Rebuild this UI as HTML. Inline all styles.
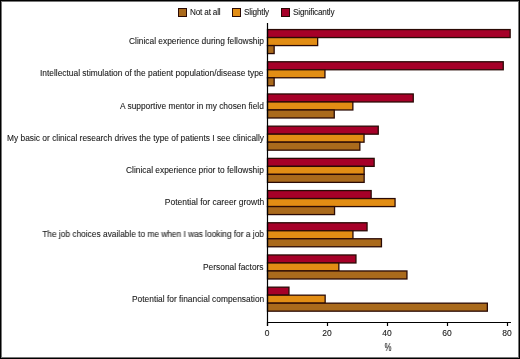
<!DOCTYPE html>
<html><head><meta charset="utf-8"><style>
html,body{margin:0;padding:0;background:#fff;}
#c{position:relative;-webkit-font-smoothing:antialiased;width:520px;height:359px;overflow:hidden;background:#fff;font-family:"Liberation Sans",sans-serif;color:#222;}
#b{position:absolute;left:0;top:0;width:518px;height:357px;border:1px solid #000;box-shadow:inset 0 0 0 1px #777;}
svg{position:absolute;left:0;top:0;}
.lbl{position:absolute;text-shadow:0.3px 0 0 rgba(0,0,0,0.15),-0.3px 0 0 rgba(0,0,0,0.15);transform-origin:100% 50%;will-change:transform;right:256.2px;font-size:8.4px;line-height:1;white-space:nowrap;}
.tk{position:absolute;text-shadow:0.3px 0 0 rgba(0,0,0,0.15),-0.3px 0 0 rgba(0,0,0,0.15);will-change:transform;width:40px;text-align:center;font-size:8.5px;line-height:1;}
.lg{position:absolute;text-shadow:0.3px 0 0 rgba(0,0,0,0.15),-0.3px 0 0 rgba(0,0,0,0.15);letter-spacing:-0.18px;will-change:transform;line-height:1;white-space:nowrap;}
</style></head><body><div id="c">
<svg width="520" height="359" viewBox="0 0 520 359">
<rect x="267.5" y="29.57" width="242.65" height="8.0" fill="#a60028" stroke="#2a0a05" stroke-width="1.3"/>
<rect x="267.5" y="37.57" width="50.15" height="8.0" fill="#e28d14" stroke="#2a0a05" stroke-width="1.3"/>
<rect x="267.5" y="45.57" width="6.65" height="8.0" fill="#aa6a1c" stroke="#2a0a05" stroke-width="1.3"/>
<rect x="267.5" y="61.77" width="235.75" height="8.0" fill="#a60028" stroke="#2a0a05" stroke-width="1.3"/>
<rect x="267.5" y="69.77" width="57.45" height="8.0" fill="#e28d14" stroke="#2a0a05" stroke-width="1.3"/>
<rect x="267.5" y="77.77" width="6.65" height="8.0" fill="#aa6a1c" stroke="#2a0a05" stroke-width="1.3"/>
<rect x="267.5" y="93.97" width="145.75" height="8.0" fill="#a60028" stroke="#2a0a05" stroke-width="1.3"/>
<rect x="267.5" y="101.97" width="85.35" height="8.0" fill="#e28d14" stroke="#2a0a05" stroke-width="1.3"/>
<rect x="267.5" y="109.97" width="66.75" height="8.0" fill="#aa6a1c" stroke="#2a0a05" stroke-width="1.3"/>
<rect x="267.5" y="126.17" width="110.75" height="8.0" fill="#a60028" stroke="#2a0a05" stroke-width="1.3"/>
<rect x="267.5" y="134.17" width="96.55" height="8.0" fill="#e28d14" stroke="#2a0a05" stroke-width="1.3"/>
<rect x="267.5" y="142.17" width="92.35" height="8.0" fill="#aa6a1c" stroke="#2a0a05" stroke-width="1.3"/>
<rect x="267.5" y="158.37" width="106.65" height="8.0" fill="#a60028" stroke="#2a0a05" stroke-width="1.3"/>
<rect x="267.5" y="166.37" width="96.65" height="8.0" fill="#e28d14" stroke="#2a0a05" stroke-width="1.3"/>
<rect x="267.5" y="174.37" width="96.65" height="8.0" fill="#aa6a1c" stroke="#2a0a05" stroke-width="1.3"/>
<rect x="267.5" y="190.57" width="103.65" height="8.0" fill="#a60028" stroke="#2a0a05" stroke-width="1.3"/>
<rect x="267.5" y="198.57" width="127.55" height="8.0" fill="#e28d14" stroke="#2a0a05" stroke-width="1.3"/>
<rect x="267.5" y="206.57" width="67.05" height="8.0" fill="#aa6a1c" stroke="#2a0a05" stroke-width="1.3"/>
<rect x="267.5" y="222.77" width="99.55" height="8.0" fill="#a60028" stroke="#2a0a05" stroke-width="1.3"/>
<rect x="267.5" y="230.77" width="85.45" height="8.0" fill="#e28d14" stroke="#2a0a05" stroke-width="1.3"/>
<rect x="267.5" y="238.77" width="113.95" height="8.0" fill="#aa6a1c" stroke="#2a0a05" stroke-width="1.3"/>
<rect x="267.5" y="254.97" width="88.45" height="8.0" fill="#a60028" stroke="#2a0a05" stroke-width="1.3"/>
<rect x="267.5" y="262.97" width="71.35" height="8.0" fill="#e28d14" stroke="#2a0a05" stroke-width="1.3"/>
<rect x="267.5" y="270.97" width="139.45" height="8.0" fill="#aa6a1c" stroke="#2a0a05" stroke-width="1.3"/>
<rect x="267.5" y="287.17" width="21.45" height="8.0" fill="#a60028" stroke="#2a0a05" stroke-width="1.3"/>
<rect x="267.5" y="295.17" width="57.65" height="8.0" fill="#e28d14" stroke="#2a0a05" stroke-width="1.3"/>
<rect x="267.5" y="303.17" width="219.85" height="8.0" fill="#aa6a1c" stroke="#2a0a05" stroke-width="1.3"/>
<line x1="267.5" y1="23" x2="267.5" y2="326" stroke="#000" stroke-width="1.2"/>
<line x1="267" y1="322.5" x2="511" y2="322.5" stroke="#000" stroke-width="1.2"/>
<line x1="267.5" y1="322" x2="267.5" y2="326" stroke="#000" stroke-width="1.2"/>
<line x1="327.5" y1="322" x2="327.5" y2="326" stroke="#000" stroke-width="1.2"/>
<line x1="387.5" y1="322" x2="387.5" y2="326" stroke="#000" stroke-width="1.2"/>
<line x1="447.5" y1="322" x2="447.5" y2="326" stroke="#000" stroke-width="1.2"/>
<line x1="507.5" y1="322" x2="507.5" y2="326" stroke="#000" stroke-width="1.2"/>
<rect x="178.5" y="8.5" width="8" height="8" fill="#aa6a1c" stroke="#2a0a05"/>
<rect x="232.5" y="8.5" width="8" height="8" fill="#e28d14" stroke="#2a0a05"/>
<rect x="281.5" y="8.5" width="8" height="8" fill="#a60028" stroke="#2a0a05"/>
</svg>
<div class="lbl" style="top:37.19px;transform:scaleX(1.0000)">Clinical experience during fellowship</div>
<div class="lbl" style="top:69.39px;transform:scaleX(1.0000)">Intellectual stimulation of the patient population/disease type</div>
<div class="lbl" style="top:101.59px;transform:scaleX(1.0000)">A supportive mentor in my chosen field</div>
<div class="lbl" style="top:133.79px;transform:scaleX(1.0000)">My basic or clinical research drives the type of patients I see clinically</div>
<div class="lbl" style="top:165.99px;transform:scaleX(1.0000)">Clinical experience prior to fellowship</div>
<div class="lbl" style="top:198.19px;transform:scaleX(1.0120)">Potential for career growth</div>
<div class="lbl" style="top:230.39px;transform:scaleX(0.9940)">The job choices available to me when I was looking for a job</div>
<div class="lbl" style="top:262.59px;transform:scaleX(1.0000)">Personal factors</div>
<div class="lbl" style="top:294.79px;transform:scaleX(1.0000)">Potential for financial compensation</div>
<div class="tk" style="left:247.0px;top:329.40px">0</div>
<div class="tk" style="left:307.0px;top:329.40px">20</div>
<div class="tk" style="left:367.0px;top:329.40px">40</div>
<div class="tk" style="left:427.0px;top:329.40px">60</div>
<div class="tk" style="left:487.0px;top:329.40px">80</div>
<div class="tk" style="left:367.6px;top:343.37px;font-size:10.2px;transform:scaleX(0.78);">%</div>
<div class="lg" style="left:190.1px;top:8.66px;font-size:8.2px;">Not at all</div>
<div class="lg" style="left:244.1px;top:8.66px;font-size:8.2px;">Slightly</div>
<div class="lg" style="left:293.1px;top:8.66px;font-size:8.2px;">Significantly</div>
<div id="b"></div>
</div></body></html>
